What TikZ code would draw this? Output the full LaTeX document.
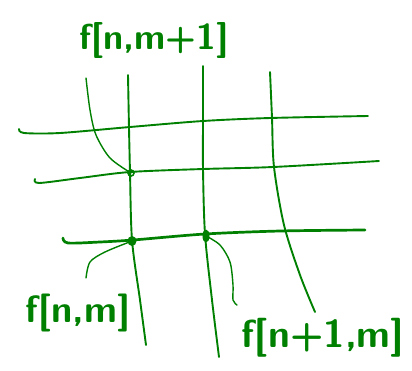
\documentclass[tikz,border=0pt]{standalone}
\usepackage{tikz}
\usetikzlibrary{positioning}
\definecolor{penGreen}{HTML}{008000}
\begin{document}
\begin{tikzpicture}[x=1pt,y=-1pt,
      stroke/.style={draw=penGreen, line width=1.9pt, line cap=round, line join=round},
      heavy/.style={stroke, line width=2.7pt},
      leader/.style={draw=penGreen, line width=1.4pt, line cap=round},
      label/.style={text=penGreen, font=\sffamily\bfseries\fontsize{36}{40}\selectfont, inner sep=0pt}]
      \useasboundingbox (0,0) rectangle (412,370);
      % grid points
      \coordinate (nm1) at (131,173);
      \coordinate (nm) at (132,241);
      \coordinate (n1m) at (206,236);
      % horizontal strokes
      \draw[stroke] plot[smooth] coordinates {(19,129) (24,133) (60,133) (130,127) (203,121) (270,118) (368,116)};
      \draw[stroke] plot[smooth] coordinates {(35,179) (39,183) (80,178) (130,172) (203,169) (273,167) (379,161)};
      \draw[heavy] plot[smooth] coordinates {(63,238) (68,243) (100,242) (133,240) (205,234) (280,231) (365,230)};
      % vertical strokes
      \draw[stroke] plot[smooth] coordinates {(128,75) (129,128) (130,172) (132,240) (140,300) (146,345)};
      \draw[stroke] plot[smooth] coordinates {(203,66) (203,121) (203,169) (205,234) (212,300) (219,357)};
      \draw[stroke] plot[smooth] coordinates {(270,72) (272,118) (274,167) (284,225) (300,275) (315,312)};
      % marked points
      \draw[penGreen, line width=1.6pt] (nm1) circle (3pt);
      \fill[penGreen] (nm) ellipse (4.5pt and 5pt);
      \fill[penGreen] (n1m) ellipse (3.5pt and 6.5pt);
      % labels
      \node[label] (top) at (154,40) {f[n,m+1]};
      \node[label, font=\sffamily\bfseries\fontsize{38}{42}\selectfont] (left) at (78,313) {f[n,m]};
      \node[label, font=\sffamily\bfseries\fontsize{39}{43}\selectfont] (right) at (323,338) {f[n+1,m]};
      \coordinate (topfoot) at (86,78);
      \coordinate (leftfoot) at (86,278);
      \coordinate (rightfoot) at (237,305);
      \draw[leader] plot[smooth] coordinates {(topfoot) (90,110) (96,135) (110,158) (nm1)};
      \draw[leader] plot[smooth] coordinates {(leftfoot) (90,262) (105,252) (nm)};
      \draw[leader] plot[smooth] coordinates {(n1m) (220,245) (230,262) (233,285) (233,300) (rightfoot)};
    \end{tikzpicture}
\end{document}
